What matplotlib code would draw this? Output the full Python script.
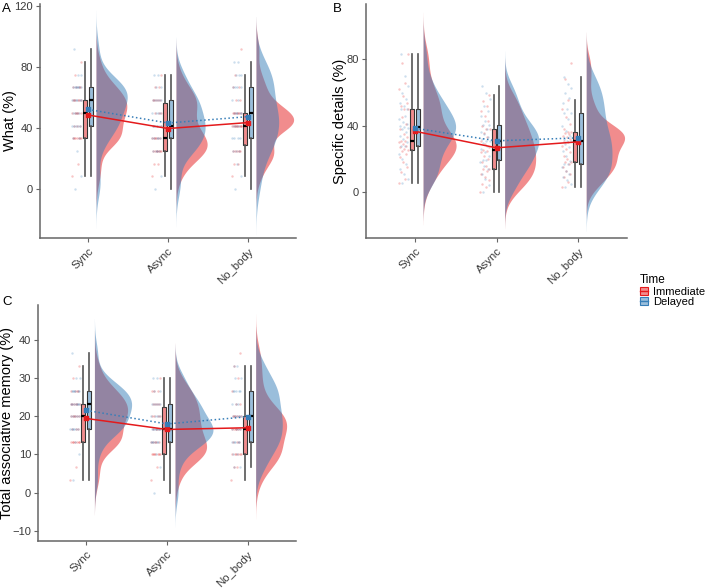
import numpy as np
import matplotlib.pyplot as plt
from matplotlib.patches import Patch
from matplotlib.lines import Line2D
from matplotlib.colors import to_rgba
from matplotlib.legend_handler import HandlerTuple

plt.rcParams['font.family'] = ['Liberation Sans', 'DejaVu Sans']

conditions = ['Sync', 'Async', 'No_body']
times = ['Immediate', 'Delayed']
colors = ['#E41A1C', '#377EB8']

# A: What (%)
what_imm = {
    'Sync': [8.3, 16.7, 33.3, 33.3, 33.3, 33.3, 33.3, 33.3, 33.3, 41.7, 41.7, 41.7, 50, 50, 50,
             50, 50, 50, 58.3, 58.3, 58.3, 58.3, 58.3, 58.3, 66.7, 66.7, 66.7, 66.7, 75, 83.3],
    'Async': [8.3, 16.7, 16.7, 25, 25, 25, 25, 25, 25, 25, 33.3, 33.3, 33.3, 33.3, 33.3,
              33.3, 41.7, 41.7, 41.7, 50, 50, 50, 58.3, 58.3, 58.3, 58.3, 58.3, 66.7, 66.7, 75],
    'No_body': [8.3, 16.7, 16.7, 25, 25, 25, 25, 25, 41.7, 41.7, 41.7, 41.7, 41.7, 41.7, 41.7,
                41.7, 41.7, 50, 50, 50, 50, 50, 50, 50, 58.3, 58.3, 66.7, 66.7, 75, 91.7],
}
what_del = {
    'Sync': [0, 8.3, 25, 33.3, 33.3, 41.7, 41.7, 41.7, 41.7, 41.7, 50, 50, 50, 50, 58.3,
             58.3, 58.3, 58.3, 58.3, 58.3, 66.7, 66.7, 66.7, 66.7, 66.7, 66.7, 66.7, 75, 75, 91.7],
    'Async': [0, 8.3, 25, 25, 25, 25, 33.3, 33.3, 33.3, 33.3, 33.3, 41.7, 41.7, 41.7, 41.7,
              41.7, 41.7, 50, 50, 50, 50, 58.3, 58.3, 58.3, 58.3, 58.3, 66.7, 66.7, 75, 75],
    'No_body': [0, 8.3, 16.7, 25, 25, 25, 33.3, 33.3, 33.3, 33.3, 41.7, 41.7, 41.7, 41.7, 50,
                50, 50, 50, 50, 58.3, 58.3, 66.7, 66.7, 66.7, 66.7, 75, 75, 75, 83.3, 83.3],
}

# B: Specific details (%)
spec_imm = {
    'Sync': [5.6, 8, 12, 15, 18, 21, 23, 25, 25.5, 26, 27, 28, 29, 30, 30.5,
             31, 33, 35, 38, 41, 45, 50, 50, 52, 54, 58, 62, 66, 78, 83],
    'Async': [0.2, 3, 5, 7, 9, 11, 12.5, 13.9, 14, 16, 18, 20, 22, 24, 25,
              25.2, 27, 29, 31, 33, 35.5, 37.8, 37.8, 40, 43, 46, 49, 52, 55, 58.5],
    'No_body': [3, 6, 9, 11, 13, 15, 17, 17.9, 18, 20, 22, 24, 26, 28, 30,
                31, 32, 33, 34, 35, 35.5, 36.2, 36.2, 38, 41, 45, 50, 55.5, 68, 78],
}
spec_del = {
    'Sync': [5.6, 8, 11, 14, 17, 20, 23, 27.9, 28, 30, 32, 34, 36, 38, 38.5,
             39.5, 40, 41, 42, 44, 46, 50, 50, 52, 54, 56, 60, 64, 70, 83],
    'Async': [0.2, 4, 8, 11, 14, 16, 18, 19.5, 19.6, 22, 24, 26, 28, 29.5, 30.5,
              31, 32, 33.5, 35, 36.5, 38, 40.2, 40.2, 43, 46, 49, 52, 56, 60, 63.9],
    'No_body': [3, 5, 7, 9, 11, 13, 15, 16.7, 16.7, 19, 22, 25, 27, 29, 30.5,
                31, 32, 34, 37, 40, 44, 47.5, 47.5, 50, 54, 57, 60, 63, 65, 69.5],
}

# C: Total associative memory (%)
total_imm = {
    'Sync': [3.3, 6.7, 13.3, 13.3, 13.3, 13.3, 13.3, 13.3, 13.3, 16.7, 16.7, 16.7, 20, 20, 20,
             20, 20, 20, 23.3, 23.3, 23.3, 23.3, 23.3, 23.3, 26.7, 26.7, 26.7, 26.7, 30, 33.3],
    'Async': [3.3, 6.7, 10, 10, 10, 10, 10, 10, 10, 13.3, 13.3, 13.3, 13.3, 13.3, 16.7,
              16.7, 16.7, 16.7, 20, 20, 20, 20, 23.3, 23.3, 23.3, 23.3, 26.7, 26.7, 26.7, 30],
    'No_body': [3.3, 6.7, 6.7, 10, 10, 10, 10, 10, 10, 13.3, 13.3, 13.3, 16.7, 16.7, 16.7,
                16.7, 16.7, 16.7, 20, 20, 20, 20, 20, 20, 23.3, 23.3, 26.7, 30, 33.3, 36.7],
}
total_del = {
    'Sync': [3.3, 10, 13.3, 16.7, 16.7, 16.7, 16.7, 16.7, 16.7, 20, 20, 20, 20, 20, 23.3,
             23.3, 23.3, 23.3, 23.3, 23.3, 23.3, 26.7, 26.7, 26.7, 26.7, 26.7, 26.7, 30, 30, 36.7],
    'Async': [0, 6.7, 10, 13.3, 13.3, 13.3, 13.3, 13.3, 13.3, 16.7, 16.7, 16.7, 16.7, 16.7, 16.7,
              16.7, 16.7, 20, 20, 20, 20, 23.3, 23.3, 23.3, 23.3, 23.3, 26.7, 26.7, 30, 30],
    'No_body': [6.7, 6.7, 10, 10, 13.3, 13.3, 13.3, 13.3, 13.3, 16.7, 16.7, 16.7, 16.7, 20, 20,
                20, 20, 20, 23.3, 23.3, 23.3, 26.7, 26.7, 26.7, 26.7, 26.7, 30, 30, 33.3, 33.3],
}


def kde(values):
    # gaussian kde, bw.nrd0, extended 3 bandwidths past the data (ggplot trim=FALSE)
    v = np.asarray(values, dtype=float)
    n = len(v)
    q75, q25 = np.percentile(v, [75, 25])
    bw = 0.9 * min(v.std(ddof=1), (q75 - q25) / 1.34) * n ** -0.2
    grid = np.linspace(v.min() - 3 * bw, v.max() + 3 * bw, 400)
    dens = np.exp(-0.5 * ((grid[:, None] - v[None, :]) / bw) ** 2).sum(1) / (n * bw * np.sqrt(2 * np.pi))
    return grid, dens


def raincloud(ax, imm, dele, ylim, yticks, ylabel, label_x):
    groups = [imm, dele]
    curves = [[kde(g[c]) for c in conditions] for g in groups]
    top = max(d.max() for row in curves for _, d in row)
    box_off = [-0.036, 0.036]
    for t in range(2):
        for i, c in enumerate(conditions):
            pos = i + 1
            grid, dens = curves[t][i]
            ax.fill_betweenx(grid, pos + 0.1, pos + 0.1 + dens / top * 0.47,
                             color=colors[t], alpha=0.5, lw=0, zorder=1)
    for t in range(2):
        for i, c in enumerate(conditions):
            pos = i + 1
            vals = np.asarray(groups[t][c])
            jit = (((np.arange(len(vals)) * 0.618 + 0.3 * t) % 1) - 0.5) * 0.12
            ax.scatter(pos - 0.14 + jit, vals, s=3, color=colors[t], alpha=0.25,
                       lw=0, zorder=2)
            ax.boxplot([vals], positions=[pos + box_off[t]], widths=0.05,
                       patch_artist=True, showfliers=False, showcaps=False,
                       boxprops=dict(facecolor=to_rgba(colors[t], 0.5), edgecolor='#333333', lw=0.8),
                       whiskerprops=dict(color='#555555', lw=1.2),
                       medianprops=dict(color='black', lw=1.6), zorder=3)
    xs = np.arange(1, 4)
    for t, ls in enumerate(['-', ':']):
        means = [np.mean(groups[t][c]) for c in conditions]
        ax.plot(xs, means, color=colors[t], lw=1.1, ls=ls, zorder=4)
        ax.scatter(xs, means, marker='s', s=11, color=colors[t], zorder=5)
    ax.set_xlim(0.4, 3.6)
    ax.set_ylim(*ylim)
    ax.set_yticks(yticks)
    ax.set_xticks(xs)
    ax.set_xticklabels(conditions, rotation=45, ha='right', va='top', rotation_mode='anchor')
    ax.set_ylabel(ylabel, fontsize=10.5, color='black')
    ax.yaxis.set_label_coords(label_x, 0.5)
    for s in ['top', 'right']:
        ax.spines[s].set_visible(False)
    for s in ['left', 'bottom']:
        ax.spines[s].set_color('#666666')
        ax.spines[s].set_linewidth(1.1)
    ax.tick_params(colors='#666666', labelcolor='#3A3A3A', length=3)
    ax.tick_params(axis='y', labelsize=8, pad=2)
    ax.tick_params(axis='x', labelsize=8.2, pad=3)


fig = plt.figure(figsize=(7.08, 5.88), dpi=100)
W, H = 708, 588
axA = fig.add_axes([40 / W, 1 - 238 / H, 256 / W, 234 / H])
axB = fig.add_axes([366 / W, 1 - 238 / H, 261 / W, 234 / H])
axC = fig.add_axes([38 / W, 1 - 541 / H, 258 / W, 236 / H])

raincloud(axA, what_imm, what_del, (-32, 121.3), [0, 40, 80, 120], 'What (%)', -0.09)
raincloud(axB, spec_imm, spec_del, (-27.7, 113.4), [0, 40, 80], 'Specific details (%)', -0.072)
raincloud(axC, total_imm, total_del, (-12.7, 49.2), [-10, 0, 10, 20, 30, 40],
          'Total associative memory (%)', -0.093)

fig.text(2 / W, 1 - 3 / H, 'A', fontsize=9.5, va='top', ha='left')
fig.text(333 / W, 1 - 3 / H, 'B', fontsize=9.5, va='top', ha='left')
fig.text(2 / W, 1 - 296 / H, 'C', fontsize=9.5, va='top', ha='left')

handles = [(Patch(facecolor=to_rgba(c, 0.5), edgecolor=c, lw=0.8),
            Line2D([], [], color=c, lw=1.0)) for c in colors]
fig.legend(handles, times, title='Time', loc='upper left', bbox_to_anchor=(630 / W, 1 - 264 / H),
           frameon=False, fontsize=8, title_fontsize=8.5, handler_map={tuple: HandlerTuple(ndivide=1)},
           handlelength=0.7, handleheight=0.7, handletextpad=0.5, labelspacing=0.05,
           alignment='left')

fig.savefig('out.png', dpi=100)
